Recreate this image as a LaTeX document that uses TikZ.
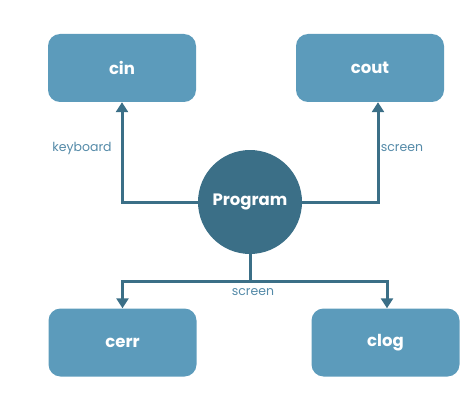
\documentclass[tikz,border=0pt]{standalone}
\usepackage{fontspec}
\setmainfont{Poppins}
\usetikzlibrary{positioning,arrows.meta}
\definecolor{boxblue}{RGB}{92,155,187}
\definecolor{progblue}{RGB}{59,111,135}
\definecolor{textblue}{RGB}{84,138,168}

\tikzset{
  stream/.style={rectangle, rounded corners=12pt, fill=boxblue, minimum width=148pt, minimum height=68pt, text=white, font=\bfseries\fontsize{16.5}{18}\selectfont},
  prog/.style={circle, fill=progblue, minimum size=104pt, inner sep=0pt, text=white, font=\bfseries\fontsize{16.5}{18}\selectfont},
  link/.style={draw=progblue, line width=3pt},
  flow/.style={link, -{Triangle[width=12pt,length=10pt]}},
  tag/.style={text=textblue, font=\fontsize{12.5}{14}\selectfont}
}

\begin{document}
\begin{tikzpicture}[x=1pt, y=1pt]
\useasboundingbox (0,0) rectangle (474,416);

\node[stream] (cin) at (122,348) {cin};
\node[stream] (cout) at (370,348) {cout};
\node[stream] (cerr) at (122.5,73.5) {cerr};
\node[stream] (clog) at (385.5,73.5) {clog};
\node[prog] (prog) at (250,214) {Program};

\coordinate (split) at (250,135);

\draw[flow] (prog.west) -| (cin.south);
\draw[flow] (prog.east) -| ([xshift=8pt]cout.south);
\draw[link] (prog.south) -- (split);
\draw[flow] (split) -| (cerr.north);
\draw[flow] (split) -| ([xshift=1.5pt]clog.north);

\node[tag] (kbd) at (82,268) {keyboard};
\node[tag] (scrout) at (402,268) {screen};
\node[tag] (screrr) at (253,124) {screen};
\end{tikzpicture}
\end{document}
